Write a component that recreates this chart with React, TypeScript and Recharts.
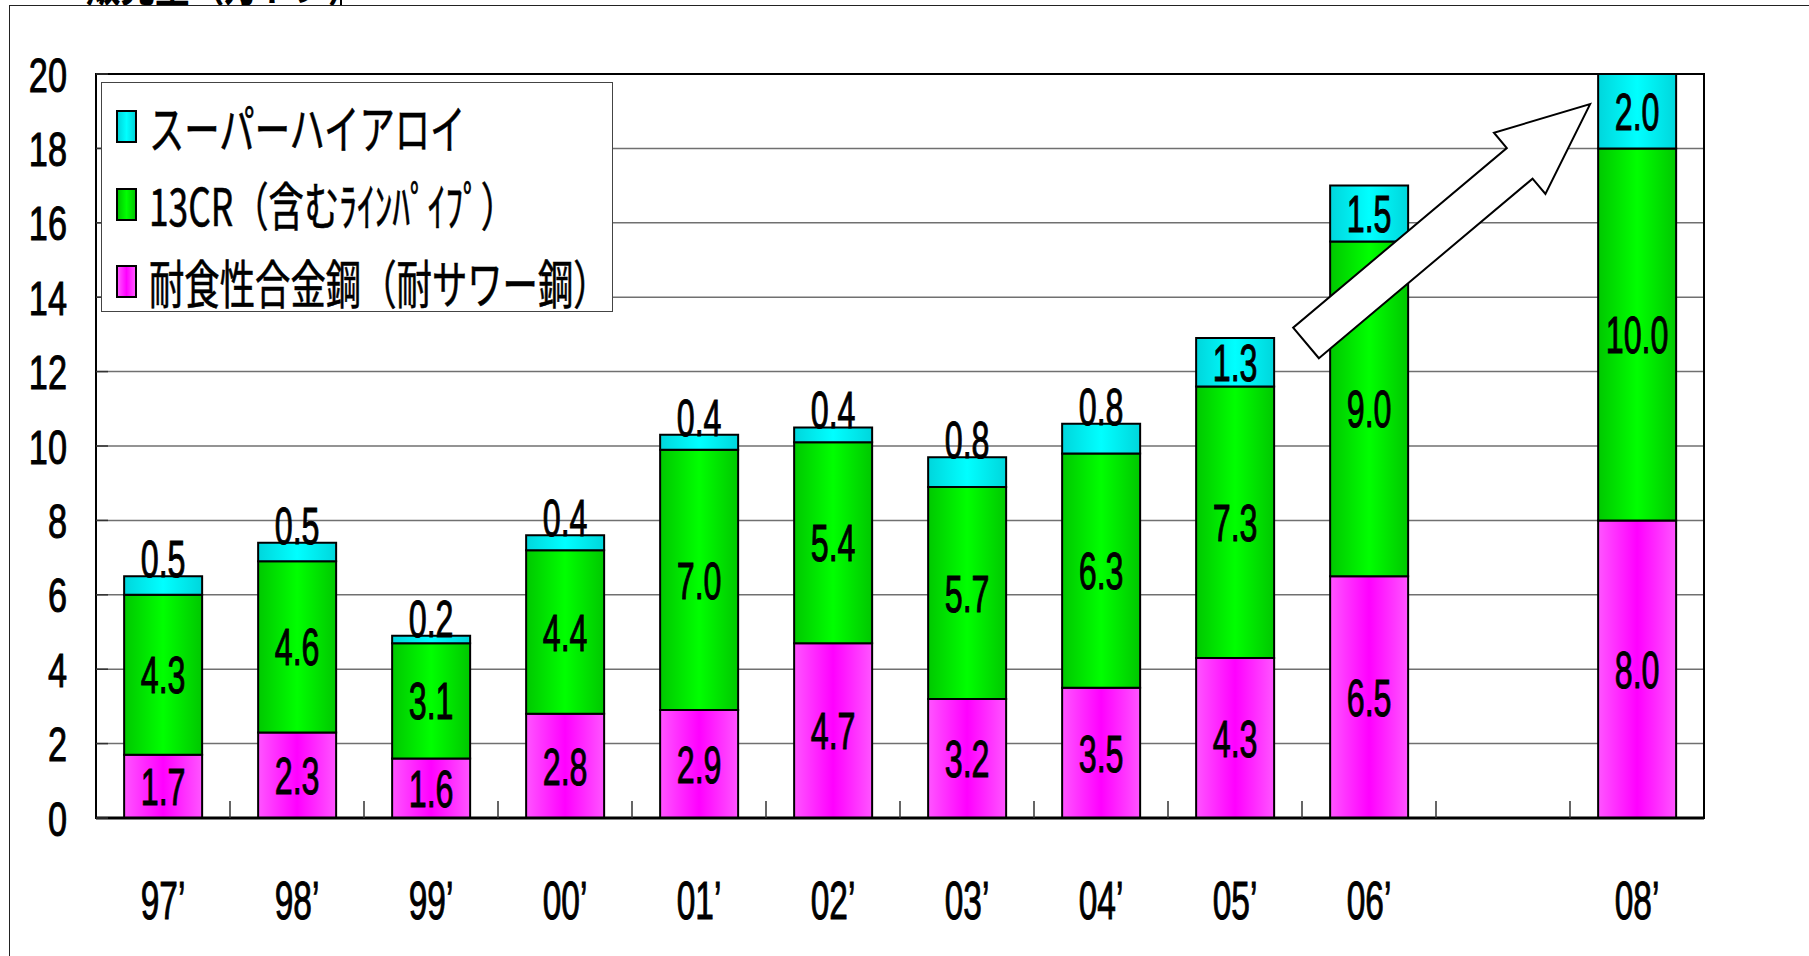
import React from 'react';
import {
  BarChart,
  Bar,
  XAxis,
  YAxis,
  CartesianGrid,
  Legend,
  LabelList,
  ReferenceLine,
  ReferenceArea,
} from 'recharts';

// Fiscal years (07' slot is kept empty)
const years = ["97’", "98’", "99’", "00’", "01’", "02’", "03’", "04’", "05’", "06’", "07’", "08’"];
const yearLabels = ["97’", "98’", "99’", "00’", "01’", "02’", "03’", "04’", "05’", "06’", "", "08’"];

// Sales volume by product (万トン)
const sourResistant = [1.7, 2.3, 1.6, 2.8, 2.9, 4.7, 3.2, 3.5, 4.3, 6.5, null, 8.0];
const cr13 = [4.3, 4.6, 3.1, 4.4, 7.0, 5.4, 5.7, 6.3, 7.3, 9.0, null, 10.0];
const superAlloy = [0.5, 0.5, 0.2, 0.4, 0.4, 0.4, 0.8, 0.8, 1.3, 1.5, null, 2.0];

const yTicks = [0, 2, 4, 6, 8, 10, 12, 14, 16, 18, 20];

const seriesNames: Record<string, string> = {
  sour: '耐食性合金鋼（耐サワー鋼）',
  cr13: '13CR（含むﾗｲﾝﾊﾟｲﾌﾟ）',
  superAlloy: 'スーパーハイアロイ',
};
// legend rows, top to bottom
const legendOrder = ['superAlloy', 'cr13', 'sour'];

// Growth arrow: anchored on two categories, with a shift in category widths
const arrowFrom = { x: "06’", y: 12.77, shift: -0.47 };
const arrowTo = { x: "08’", y: 19.19, shift: -0.35 };

const data = years.map((year, i) => ({
  year,
  sour: sourResistant[i],
  cr13: cr13[i],
  superAlloy: superAlloy[i],
}));

const DIGIT_FONT = '"Liberation Sans", Arial, sans-serif';
const JP_FONT = '"Noto Sans CJK JP", "Noto Sans", sans-serif';

const swatchGradients: Record<string, string> = {
  superAlloy: 'linear-gradient(to right, #00d6dc, #00ffff 50%, #00d6dc)',
  cr13: 'linear-gradient(to right, #00c800, #00ff00 50%, #00c800)',
  sour: 'linear-gradient(to right, #ff55ff, #ff00ff 50%, #ff55ff)',
};

function CondensedText({
  x,
  y,
  text,
  size = 52,
  sx = 0.62,
  anchor = 'middle',
}: {
  x: number;
  y: number;
  text: string;
  size?: number;
  sx?: number;
  anchor?: 'start' | 'middle' | 'end';
}) {
  return (
    <text
      transform={`translate(${x},${y}) scale(${sx},1)`}
      textAnchor={anchor}
      fontFamily={DIGIT_FONT}
      fontSize={size}
      fill="#000"
      stroke="#000"
      strokeWidth={1}
    >
      {text}
    </text>
  );
}

const makeSegmentLabel = (smallGoesAbove: boolean) => (props: any) => {
  const { x, y, width, height, value } = props;
  if (value == null) return null;
  const cx = Number(x) + Number(width) / 2;
  const size = 52;
  if (smallGoesAbove && value < 1) {
    return <CondensedText x={cx} y={Number(y) + 1} text={Number(value).toFixed(1)} size={size} />;
  }
  const cy = Number(y) + Number(height) / 2 + size * 0.358;
  return <CondensedText x={cx} y={cy} text={Number(value).toFixed(1)} size={size} />;
};

function YTick(props: any) {
  const { x, y, payload } = props;
  return (
    <g>
      <line x1={x} y1={y} x2={x + 12} y2={y} stroke="#333" strokeWidth={1.5} />
      <CondensedText x={x - 29} y={y + 49 * 0.358} text={String(payload.value)} size={49} sx={0.7} anchor="end" />
    </g>
  );
}

// year label plus a short upward tick on the right-hand category boundary
function XTick(props: any) {
  const { x, y, index, width, visibleTicksCount } = props;
  const label = yearLabels[index];
  const slot = Number(width) / Number(visibleTicksCount || years.length);
  const isLast = index >= years.length - 1;
  return (
    <g>
      {!isLast && (
        <line x1={x + slot / 2} y1={y} x2={x + slot / 2} y2={y - 17} stroke="#333" strokeWidth={1.5} />
      )}
      <CondensedText x={x} y={y + 82 + 54 * 0.358} text={label} size={54} sx={0.62} />
    </g>
  );
}

function GrowthArrow(props: any) {
  const { x1: ax, y1, x2: bx0, y2 } = props;
  const slot = (bx0 - ax) / (years.indexOf(arrowTo.x) - years.indexOf(arrowFrom.x));
  const x1 = ax + arrowFrom.shift * slot;
  const x2 = bx0 + arrowTo.shift * slot;
  const dx = x2 - x1;
  const dy = y2 - y1;
  const len = Math.hypot(dx, dy);
  const ux = dx / len;
  const uy = dy / len;
  const nx = -uy;
  const ny = ux;
  const shaft = 20;
  const head = 40;
  const headLen = 92;
  const bx = x2 - ux * headLen;
  const by = y2 - uy * headLen;
  const pts = [
    [x1 + nx * shaft, y1 + ny * shaft],
    [bx + nx * shaft, by + ny * shaft],
    [bx + nx * head, by + ny * head],
    [x2, y2],
    [bx - nx * head, by - ny * head],
    [bx - nx * shaft, by - ny * shaft],
    [x1 - nx * shaft, y1 - ny * shaft],
  ]
    .map((p) => `${p[0]},${p[1]}`)
    .join(' ');
  return <polygon points={pts} fill="#fff" stroke="#000" strokeWidth={2} strokeLinejoin="miter" />;
}

function LegendBox(props: any) {
  const entries = legendOrder
    .map((k) => (props.payload || []).find((e: any) => String(e.dataKey) === k))
    .filter(Boolean);
  return (
    <div
      style={{
        width: 512,
        height: 230,
        boxSizing: 'border-box',
        border: '1.5px solid #444',
        background: '#fff',
        position: 'relative',
      }}
    >
      {entries.map((entry: any, i: number) => {
        const key = String(entry.dataKey);
        return (
          <div
            key={key}
            style={{
              position: 'absolute',
              left: 14,
              top: 27 + i * 77.5,
              height: 33,
              display: 'flex',
              alignItems: 'center',
            }}
          >
            <span
              style={{
                display: 'inline-block',
                width: 21,
                height: 33,
                boxSizing: 'border-box',
                border: '2px solid #000',
                background: swatchGradients[key],
              }}
            />
            <span
              style={{
                display: 'inline-block',
                marginLeft: 12,
                fontFamily: JP_FONT,
                fontSize: 52,
                lineHeight: 1,
                color: '#000',
                whiteSpace: 'nowrap',
                transform: 'scaleX(0.68)',
                transformOrigin: 'left center',
                WebkitTextStroke: '0.6px #000',
              }}
            >
              {entry.value}
            </span>
          </div>
        );
      })}
    </div>
  );
}

export default function App() {
  return (
    <div
      style={{
        position: 'absolute',
        left: 0,
        top: 0,
        width: 1809,
        height: 956,
        background: '#fff',
        overflow: 'hidden',
      }}
    >
      {/* slide heading, mostly hidden above the frame */}
      <div
        style={{
          position: 'absolute',
          left: 0,
          top: 0,
          width: 340,
          height: 6,
          overflow: 'hidden',
          borderRight: '2px solid #000',
        }}
      >
        <span
          style={{
            position: 'absolute',
            left: 86,
            top: -44,
            fontFamily: JP_FONT,
            fontWeight: 700,
            fontSize: 48,
            lineHeight: 1,
            whiteSpace: 'nowrap',
            transform: 'scaleX(0.72)',
            transformOrigin: 'left center',
          }}
        >
          販売量（万トン）
        </span>
      </div>
      {/* outer frame */}
      <div
        style={{
          position: 'absolute',
          left: 9,
          top: 5,
          width: 1900,
          height: 1000,
          border: '1.5px solid #222',
          boxSizing: 'border-box',
        }}
      />
      <div style={{ position: 'absolute', left: 0, top: 0 }}>
        <BarChart
          width={1809}
          height={956}
          data={data}
          margin={{ top: 74, right: 105, bottom: 38, left: 16 }}
          barCategoryGap="21%"
        >
          <defs>
            <linearGradient id="gSour" x1="0" y1="0" x2="1" y2="0">
              <stop offset="0%" stopColor="#ff55ff" />
              <stop offset="50%" stopColor="#ff00ff" />
              <stop offset="100%" stopColor="#ff55ff" />
            </linearGradient>
            <linearGradient id="gCr" x1="0" y1="0" x2="1" y2="0">
              <stop offset="0%" stopColor="#00c800" />
              <stop offset="50%" stopColor="#00ff00" />
              <stop offset="100%" stopColor="#00c800" />
            </linearGradient>
            <linearGradient id="gSuper" x1="0" y1="0" x2="1" y2="0">
              <stop offset="0%" stopColor="#00d6dc" />
              <stop offset="50%" stopColor="#00ffff" />
              <stop offset="100%" stopColor="#00d6dc" />
            </linearGradient>
          </defs>
          <CartesianGrid vertical={false} stroke="#707070" strokeWidth={1.5} />
          <XAxis
            dataKey="year"
            height={100}
            tickSize={0}
            tickMargin={0}
            tickLine={false}
            axisLine={{ stroke: '#000', strokeWidth: 3 }}
            tick={<XTick />}
            interval={0}
          />
          <YAxis
            width={80}
            domain={[0, 20]}
            ticks={yTicks}
            interval={0}
            tickSize={0}
            tickMargin={0}
            tickLine={false}
            axisLine={{ stroke: '#000', strokeWidth: 2 }}
            tick={<YTick />}
          />
          <Legend
            layout="vertical"
            align="center"
            verticalAlign="middle"
            wrapperStyle={{ left: 101, top: 82, width: 512, height: 230 }}
            content={<LegendBox />}
          />
          <Bar dataKey="sour" name={seriesNames.sour} stackId="a" fill="url(#gSour)" stroke="#000" strokeWidth={2} isAnimationActive={false}>
            <LabelList dataKey="sour" content={makeSegmentLabel(false)} />
          </Bar>
          <Bar dataKey="cr13" name={seriesNames.cr13} stackId="a" fill="url(#gCr)" stroke="#000" strokeWidth={2} isAnimationActive={false}>
            <LabelList dataKey="cr13" content={makeSegmentLabel(false)} />
          </Bar>
          <Bar dataKey="superAlloy" name={seriesNames.superAlloy} stackId="a" fill="url(#gSuper)" stroke="#000" strokeWidth={2} isAnimationActive={false}>
            <LabelList dataKey="superAlloy" content={makeSegmentLabel(true)} />
          </Bar>
          <ReferenceLine
            segment={[
              { x: arrowFrom.x, y: arrowFrom.y },
              { x: arrowTo.x, y: arrowTo.y },
            ]}
            shape={<GrowthArrow />}
            ifOverflow="visible"
          />
          <ReferenceArea y1={0} y2={20} fill="none" stroke="#000" strokeWidth={2} ifOverflow="visible" />
        </BarChart>
      </div>
    </div>
  );
}
